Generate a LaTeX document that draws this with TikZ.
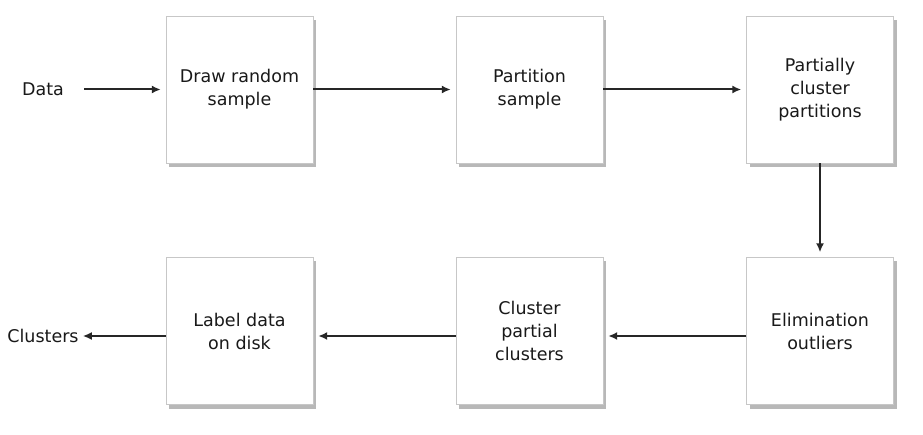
\documentclass[tikz,border=0pt]{standalone}
\usepackage{fontspec}
\setmainfont{DejaVu Sans}
\usetikzlibrary{shadows,arrows.meta}
\begin{document}
\begin{tikzpicture}[x=1pt,y=-1pt,
 box/.style={draw=black!22, fill=white, minimum width=147pt, minimum height=147pt, inner sep=0pt, align=center,
   font=\fontsize{17.5}{23}\selectfont, text=black!90,
   drop shadow={shadow xshift=3pt, shadow yshift=-4pt, opacity=0.28, fill=black}},
 flow/.style={-{Latex[length=9pt,width=8pt]}, line width=2pt, draw=black!85, shorten >=5pt},
 lbl/.style={font=\fontsize{17.5}{23}\selectfont, text=black!90, inner sep=2pt}]
\useasboundingbox (0,0) rectangle (923,435);
\fill[white] (0,0) rectangle (923,435);
\node[box] (b1) at (239.5,89.5) {Draw random\\sample};
\node[box] (b2) at (529.5,89.5) {Partition\\sample};
\node[box] (b3) at (820,89.5) {Partially\\cluster\\partitions};
\node[box] (b4) at (820,331) {Elimination\\outliers};
\node[box] (b5) at (529.5,331) {Cluster\\partial\\clusters};
\node[box] (b6) at (239.5,331) {Label data\\on disk};
\node[lbl] (data) at (43,89.5) {Data};
\node[lbl] (clusters) at (43,336) {Clusters};
\draw[flow, shorten <=18pt] (data.east) -- (b1.west);
\draw[flow] (b1.east) -- (b2.west);
\draw[flow] (b2.east) -- (b3.west);
\draw[flow] (b3.south) -- (b4.north);
\draw[flow] ([yshift=-5pt]b4.west) -- ([yshift=-5pt]b5.east);
\draw[flow] ([yshift=-5pt]b5.west) -- ([yshift=-5pt]b6.east);
\draw[flow, shorten >=2pt] ([yshift=-5pt]b6.west) -- (clusters.east);
\end{tikzpicture}
\end{document}
